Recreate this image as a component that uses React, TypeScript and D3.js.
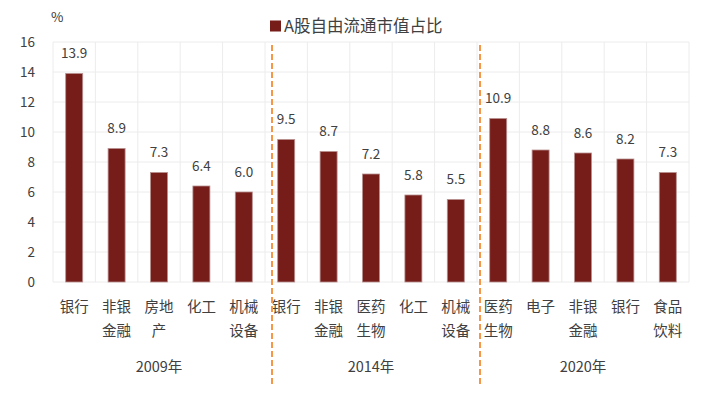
import React from "react";
import * as d3 from "d3";

const categories = [
  "银行", "非银\n金融", "房地\n产", "化工", "机械\n设备",
  "银行", "非银\n金融", "医药\n生物", "化工", "机械\n设备",
  "医药\n生物", "电子", "非银\n金融", "银行", "食品\n饮料",
];
const values = [13.9, 8.9, 7.3, 6.4, 6.0, 9.5, 8.7, 7.2, 5.8, 5.5, 10.9, 8.8, 8.6, 8.2, 7.3];
const groups = ["2009年", "2014年", "2020年"];
const yTicks = [0, 2, 4, 6, 8, 10, 12, 14, 16];
const seriesName = "A股自由流通市值占比";

const W = 714, H = 393;
const M = { left: 53, right: 25, top: 42, bottom: 111 };
const FONT = "'Noto Sans CJK SC', 'Noto Sans', sans-serif";
const TEXT = "#404040";
const BAR = "#761D1A";

export default function App() {
  const x = d3.scaleBand<number>()
    .domain(d3.range(categories.length))
    .range([M.left, W - M.right])
    .paddingInner(0).paddingOuter(0);
  const y = d3.scaleLinear().domain([0, 16]).range([H - M.bottom, M.top]);
  const bw = 17;
  const step = x.step();
  const dashX = [x(5)! + 7, x(10)! + 3];

  return (
    <svg width={W} height={H} style={{ position: "absolute", left: 0, top: 0, fontFamily: FONT }}>
      <rect width={W} height={H} fill="#fff" />
      {yTicks.map((t) => (
        <line key={"h" + t} x1={M.left} x2={W - M.right} y1={y(t)} y2={y(t)} stroke="#ececec" strokeWidth={1} />
      ))}
      {d3.range(categories.length + 1).map((i) => (
        <line key={"v" + i} x1={M.left + i * step} x2={M.left + i * step} y1={y(16)} y2={y(0)} stroke="#ececec" strokeWidth={1} />
      ))}
      {yTicks.map((t) => (
        <text key={"t" + t} x={35} y={y(t)} dy="0.35em" textAnchor="end" fontSize={13.5} fill={TEXT}>{t}</text>
      ))}
      <text x={51} y={17} dy="0.35em" fontSize={13.5} fill={TEXT}>%</text>
      {values.map((v, i) => {
        const cx = x(i)! + step / 2;
        return (
          <g key={"b" + i}>
            <rect x={cx - bw / 2} y={y(v)} width={bw} height={y(0) - y(v)} fill={BAR} stroke="#b89090" strokeWidth={0.8} />
            <text x={cx} y={y(v) - 20} dy="0.35em" textAnchor="middle" fontSize={13.5} fill={TEXT}>{v.toFixed(1)}</text>
          </g>
        );
      })}
      {categories.map((c, i) => {
        const cx = x(i)! + step / 2;
        return c.split("\n").map((line, j) => (
          <text key={"c" + i + "-" + j} x={cx} y={307 + j * 23.5} dy="0.35em" textAnchor="middle" fontSize={14.5} fill={TEXT}>{line}</text>
        ));
      })}
      {groups.map((g, k) => (
        <text key={"g" + k} x={M.left + (k * 5 + 2.5) * step} y={367} dy="0.35em" textAnchor="middle" fontSize={14.5} fill={TEXT}>{g}</text>
      ))}
      {dashX.map((dx, k) => (
        <line key={"d" + k} x1={dx} x2={dx} y1={45} y2={385} stroke="#F79646" strokeWidth={2} strokeDasharray="6,3" />
      ))}
      <rect x={270} y={20.5} width={11} height={11} fill={BAR} />
      <text x={284} y={26} dy="0.35em" fontSize={16.5} fill={TEXT}>{seriesName}</text>
    </svg>
  );
}
